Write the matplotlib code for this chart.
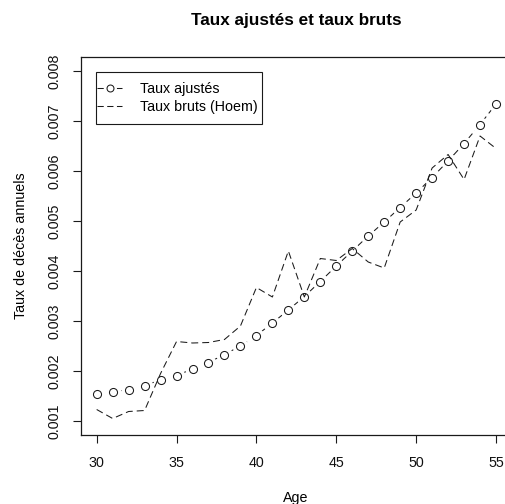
import matplotlib
matplotlib.use("Agg")
import matplotlib.pyplot as plt
from matplotlib.lines import Line2D
from matplotlib.patches import Rectangle
from matplotlib.ticker import FormatStrFormatter

plt.rcParams['font.family'] = ['Liberation Sans', 'DejaVu Sans']
plt.rcParams['lines.scale_dashes'] = False

ages = list(range(30, 56))
taux_ajustes = [0.00155, 0.00158, 0.00163, 0.00171, 0.00182, 0.00191, 0.00204, 0.00217,
                0.00233, 0.00250, 0.00271, 0.00296, 0.00322, 0.00349, 0.00379, 0.00410,
                0.00440, 0.00470, 0.00498, 0.00527, 0.00556, 0.00587, 0.00620, 0.00655,
                0.00693, 0.00734]
taux_bruts = [0.00123, 0.00105, 0.00119, 0.00121, 0.00195, 0.00259, 0.00256, 0.00257,
              0.00263, 0.00290, 0.00367, 0.00348, 0.00440, 0.00348, 0.00425, 0.00421,
              0.00445, 0.00418, 0.00406, 0.00498, 0.00522, 0.00606, 0.00633, 0.00583,
              0.00670, 0.00645]
xticks = [30, 35, 40, 45, 50, 55]
yticks = [0.001, 0.002, 0.003, 0.004, 0.005, 0.006, 0.007, 0.008]
labels = ["Taux ajustés", "Taux bruts (Hoem)"]

W, H = 505, 504
fig = plt.figure(figsize=(W / 100, H / 100), dpi=100)
left, right, top, bottom = 80.7, 512, 57, 435
ax = fig.add_axes([left / W, 1 - bottom / H, (right - left) / W, (bottom - top) / H])

col = '#1a1a1a'
dash = (5, 2.9)
fs = 10.3

# fitted rates: line with gaps around points (R type="b")
ax.plot(ages, taux_ajustes, color=col, lw=0.75, dashes=dash, zorder=1)
ax.plot(ages, taux_ajustes, ls='none', marker='o', ms=11.5, mfc='white', mec='none', zorder=2)
# raw rates
ax.plot(ages, taux_bruts, color=col, lw=0.75, dashes=dash, zorder=3)
ax.plot(ages, taux_ajustes, ls='none', marker='o', ms=5.8, mfc='none', mec=col, mew=0.75, zorder=4)

ax.set_xlim(29, 56)
ax.set_ylim(0.00072, 0.00828)
ax.set_xticks(xticks)
ax.set_yticks(yticks)
ax.yaxis.set_major_formatter(FormatStrFormatter('%.3f'))
ax.tick_params(axis='both', direction='out', length=5.8, width=0.8, color=col,
               labelsize=fs, labelcolor='#111111')
ax.tick_params(axis='x', pad=9.5)
ax.tick_params(axis='y', pad=7.7)
for lab in ax.get_yticklabels():
    lab.set_rotation(90)
    lab.set_va('center')
for sp in ax.spines.values():
    sp.set_linewidth(0.9)
    sp.set_color(col)

fig.text(296 / W, 1 - 21 / H, "Taux ajustés et taux bruts", ha='center', va='center',
         fontsize=12.3, fontweight='bold')
fig.text(296 / W, 1 - 498 / H, "Age", ha='center', va='center', fontsize=fs)
fig.text(21 / W, 1 - 246 / H, "Taux de décès annuels", ha='center', va='center',
         fontsize=fs, rotation=90)

handles = [Line2D([], [], color=col, lw=0.75, dashes=(4.5, 2.5), marker='o', ms=5.0,
                  mfc='white', mec=col, mew=0.75),
           Line2D([], [], color=col, lw=0.75, dashes=(4.5, 2.5))]
leg = ax.legend(handles, labels, loc='upper left', frameon=False, fontsize=fs,
                bbox_to_anchor=(97 / W, 1 - 82 / H), bbox_transform=fig.transFigure,
                borderpad=0, borderaxespad=0, handlelength=1.75, handletextpad=1.25,
                labelspacing=0.3, numpoints=1)
fig.add_artist(Rectangle((96 / W, 1 - 124 / H), 166 / W, 52 / H, fill=False,
                         ec=col, lw=0.8, transform=fig.transFigure))

fig.savefig("out.png", dpi=100)
